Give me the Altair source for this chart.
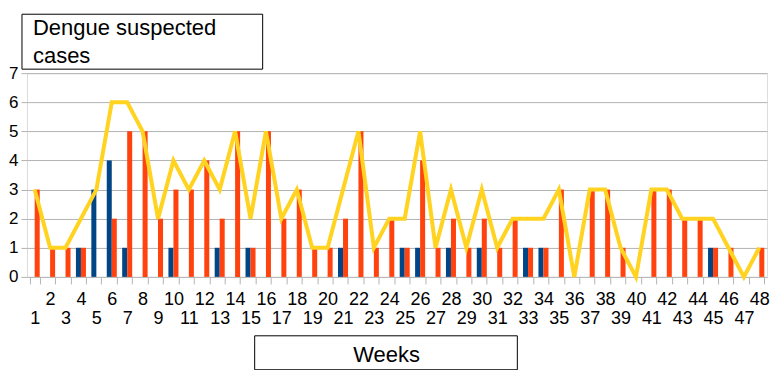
import altair as alt
import pandas as pd

weeks = list(range(1, 49))
blue_cases = [0, 0, 0, 1, 3, 4, 1, 0, 0, 1, 0, 0, 1, 0, 1, 0, 0, 0, 0, 0, 1, 0, 0, 0,
              1, 1, 0, 1, 0, 1, 0, 0, 1, 1, 0, 0, 0, 0, 0, 0, 0, 0, 0, 0, 1, 0, 0, 0]
orange_cases = [3, 1, 1, 1, 0, 2, 5, 5, 2, 3, 3, 4, 2, 5, 1, 5, 2, 3, 1, 1, 2, 5, 1, 2,
                1, 4, 1, 2, 1, 2, 1, 2, 1, 1, 3, 0, 3, 3, 1, 0, 3, 3, 2, 2, 1, 1, 0, 1]
total_cases = [3, 1, 1, 2, 3, 6, 6, 5, 2, 4, 3, 4, 3, 5, 2, 5, 2, 3, 1, 1, 3, 5, 1, 2,
               2, 5, 1, 3, 1, 3, 1, 2, 2, 2, 3, 0, 3, 3, 1, 0, 3, 3, 2, 2, 2, 1, 0, 1]
y_ticks = [0, 1, 2, 3, 4, 5, 6, 7]
series_names = ["Series 1", "Series 2"]
series_colors = ["#004586", "#ff420e"]
line_color = "#ffd320"
title_lines = ["Dengue suspected", "cases"]
x_title = "Weeks"

rows = []
for w, b, o in zip(weeks, blue_cases, orange_cases):
    rows.append({"week": w, "series": series_names[0], "value": b})
    rows.append({"week": w, "series": series_names[1], "value": o})
df = pd.DataFrame(rows)
df_total = pd.DataFrame({"week": weeks, "value": total_cases})

grey = "#b3b3b3"

x_axis = alt.Axis(
    title=None, labelAngle=0, tickBand="extent", tickSize=7, tickColor=grey,
    domain=False, grid=False, labelFontSize=18, labelColor="black", labelOverlap=False,
    labelPadding={"condition": {"test": "datum.value % 2 == 1", "value": 26}, "value": 7},
)
y_axis = alt.Axis(
    title=None, values=y_ticks, gridColor=grey, domain=False, tickSize=6,
    tickColor=grey, labelFontSize=17, labelColor="black", labelPadding=3,
    labelOverlap=False, tickCount=8,
)
x_scale = alt.Scale(paddingInner=0.35, paddingOuter=0.175)
y_scale = alt.Scale(domain=[0, 7], nice=False)

bars = alt.Chart(df).mark_bar().encode(
    x=alt.X("week:O", scale=x_scale, axis=x_axis),
    xOffset=alt.XOffset("series:N", scale=alt.Scale(domain=series_names, paddingInner=0, paddingOuter=0)),
    y=alt.Y("value:Q", scale=y_scale, axis=y_axis),
    color=alt.Color("series:N", scale=alt.Scale(domain=series_names, range=series_colors), legend=None),
)

line = alt.Chart(df_total).mark_line(color=line_color, strokeWidth=4, strokeJoin="miter").encode(
    x=alt.X("week:O", scale=x_scale, axis=x_axis),
    y=alt.Y("value:Q", scale=y_scale, axis=y_axis),
)

ann = alt.Chart(pd.DataFrame({"a": [0]}))
title_box = ann.mark_rect(fill="white", stroke="black", strokeWidth=1).encode(
    x=alt.value(-5), x2=alt.value(236), y=alt.value(-59), y2=alt.value(-4)
)
title_text = ann.mark_text(align="left", baseline="alphabetic", fontSize=22, lineHeight=28,
                           color="black").encode(
    x=alt.value(6), y=alt.value(-38), text=alt.value(title_lines)
)
xt_box = ann.mark_rect(fill="white", stroke="black", strokeWidth=1).encode(
    x=alt.value(228), x2=alt.value(491), y=alt.value(263), y2=alt.value(297)
)
xt_text = ann.mark_text(align="center", baseline="alphabetic", fontSize=22, color="black").encode(
    x=alt.value(360), y=alt.value(289), text=alt.value(x_title)
)

chart = alt.layer(bars, line, title_box, title_text, xt_box, xt_text).properties(
    width=741, height=204,
    autosize=alt.AutoSizeParams(type="none"),
    padding={"left": 19, "top": 65, "right": 8, "bottom": 93},
).configure_view(stroke=grey).configure(font="Liberation Sans")

chart.save("out.html", embed_options={"renderer": "svg", "actions": False})
